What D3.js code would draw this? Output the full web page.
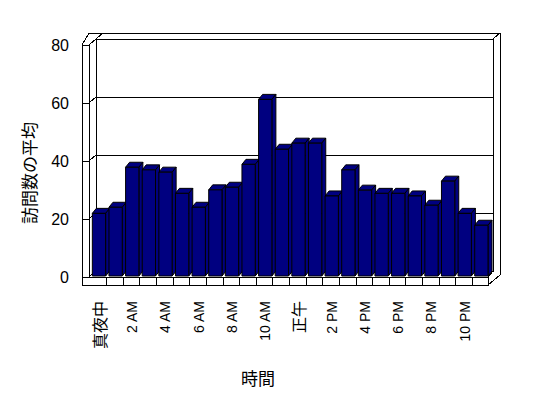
<!DOCTYPE html>
<html><head><meta charset="utf-8">
<script src="https://cdn.jsdelivr.net/npm/d3@7"></script>
<style>html,body{margin:0;padding:0;background:#fff;}svg{display:block;}</style>
</head><body>
<script>
const categories = ["真夜中","1 AM","2 AM","3 AM","4 AM","5 AM","6 AM","7 AM","8 AM","9 AM","10 AM","11 AM",
  "正午","1 PM","2 PM","3 PM","4 PM","5 PM","6 PM","7 PM","8 PM","9 PM","10 PM","11 PM"];
const values = [21.6, 23.7, 37.5, 36.6, 35.8, 28.5, 23.7, 29.7, 30.6, 38.5, 60.9, 43.7,
  45.8, 45.8, 27.6, 36.6, 29.6, 28.5, 28.5, 27.6, 24.4, 32.7, 21.6, 17.5];
const tickLabels = ["真夜中","2 AM","4 AM","6 AM","8 AM","10 AM","正午","2 PM","4 PM","6 PM","8 PM","10 PM"];
const yTicks = [0, 20, 40, 60, 80];
const yTitle = "訪問数の平均";
const xTitle = "時間";

const W = 548, H = 398;
const svg = d3.select("body").append("svg").attr("width", W).attr("height", H);

// geometry
const D = [7, -6];              // depth vector front -> back
const frontX = [89.5, 488.5];
const wallThick = 7;
const yBack = d3.scaleLinear().domain([0, 80]).range([271, 39]);
const yFront = v => yBack(v) - D[1];
const x = d3.scaleBand().domain(categories).range(frontX).paddingInner(0.2).paddingOuter(0.1);
const fBar = 1/6;                // bar front position as fraction of depth
const barD = [4, -5];            // bar depth

const bx0 = 96, bx1 = 493, by0 = yBack(80), by1 = yBack(0);
const fx0 = 89, fx1 = 488, fy1 = yFront(0);
const ox0 = 82, oTop = 33, oRight = 500, oBottom = 285;

const line = d3.line();
const g = svg.append("g").attr("fill", "#fff").attr("stroke", "#000").attr("stroke-width", 1)
  .attr("shape-rendering", "crispEdges");

// outer silhouette
g.append("path").attr("d", line([[ox0, yFront(80)], [fx0, oTop], [oRight, oTop], [oRight, oBottom - 10], [fx1, oBottom], [ox0, oBottom]]) + "Z");
// back wall face
g.append("path").attr("d", line([[bx0, by0], [bx1, by0], [bx1, by1], [bx0, by1]]) + "Z");
g.append("path").attr("d", line([[bx1, by0], [oRight, oTop]]));
g.append("path").attr("d", line([[bx0, by0], [bx0 + wallThick, oTop]]));
// left wall inner face
g.append("path").attr("d", line([[fx0, yFront(80)], [bx0, by0], [bx0, by1], [fx0, fy1]]) + "Z");
// left wall front thickness
g.append("path").attr("d", line([[ox0, yFront(80)], [fx0, yFront(80)], [fx0, oBottom], [ox0, oBottom]]) + "Z");
// floor
g.append("path").attr("d", line([[fx0, fy1], [bx0, by1], [bx1, by1], [fx1, fy1]]) + "Z");
g.append("path").attr("d", line([[ox0, fy1], [fx1, fy1], [fx1, oBottom], [ox0, oBottom]]) + "Z");
// category separators on floor strip
categories.slice(1).forEach(c => {
  const xx = Math.round(x(c) - x.step() * x.paddingInner() / 2);
  g.append("path").attr("d", line([[xx, fy1], [xx, oBottom]]));
});

// gridlines
yTicks.forEach(v => {
  const yb = yBack(v), yf = yFront(v);
  if (v > 0 && v < 80) g.append("path").attr("d", line([[bx0, yb], [bx1, yb]]));
  g.append("path").attr("d", line([[ox0, yf], [fx0, yf], [bx0, yb]])).attr("fill", "none");
});

// bars
const bars = svg.append("g").attr("stroke", "#000").attr("stroke-width", 1).attr("fill", "#000080");
categories.forEach((c, i) => {
  const v = values[i];
  const x0 = x(c) + fBar * D[0], x1 = x0 + x.bandwidth();
  const yb = yFront(0) + fBar * D[1], yt = yFront(v) + fBar * D[1];
  const gb = bars.append("g");
  gb.append("path").attr("d", line([[x0, yt], [x0 + barD[0], yt + barD[1]], [x1 + barD[0], yt + barD[1]], [x1, yt]]) + "Z");
  gb.append("path").attr("d", line([[x1, yt], [x1 + barD[0], yt + barD[1]], [x1 + barD[0], yb + barD[1]], [x1, yb]]) + "Z");
  gb.append("path").attr("d", line([[x0, yt], [x1, yt], [x1, yb], [x0, yb]]) + "Z");
});

// y tick labels
svg.append("g").selectAll("text").data(yTicks).join("text")
  .attr("x", 69).attr("y", d => yFront(d)).attr("text-anchor", "end").attr("dominant-baseline", "central")
  .attr("font-family", "'Liberation Sans', Arial, sans-serif").attr("font-size", 16).attr("fill", "#000")
  .text(d => d);

// x tick labels
const isCJK = s => /[\u3000-\u9fff]/.test(s);
svg.append("g").selectAll("text").data(tickLabels).join("text")
  .attr("transform", d => `translate(${x(d) + x.bandwidth() / 2 + 1},301) rotate(-90)`)
  .attr("text-anchor", "end").attr("dominant-baseline", "central")
  .attr("font-family", d => isCJK(d) ? "'Noto Sans CJK JP', sans-serif" : "'Liberation Sans', Arial, sans-serif")
  .attr("font-size", d => isCJK(d) ? 16 : 14).attr("fill", "#000")
  .text(d => d);

// axis titles
svg.append("text").attr("transform", "translate(28,173) rotate(-90)")
  .attr("text-anchor", "middle").attr("dominant-baseline", "central")
  .attr("font-family", "'Noto Sans CJK JP', sans-serif").attr("font-size", 17).text(yTitle);
svg.append("text").attr("x", 258).attr("y", 377)
  .attr("text-anchor", "middle").attr("dominant-baseline", "central")
  .attr("font-family", "'Noto Sans CJK JP', sans-serif").attr("font-size", 17).text(xTitle);
</script>
</body></html>
